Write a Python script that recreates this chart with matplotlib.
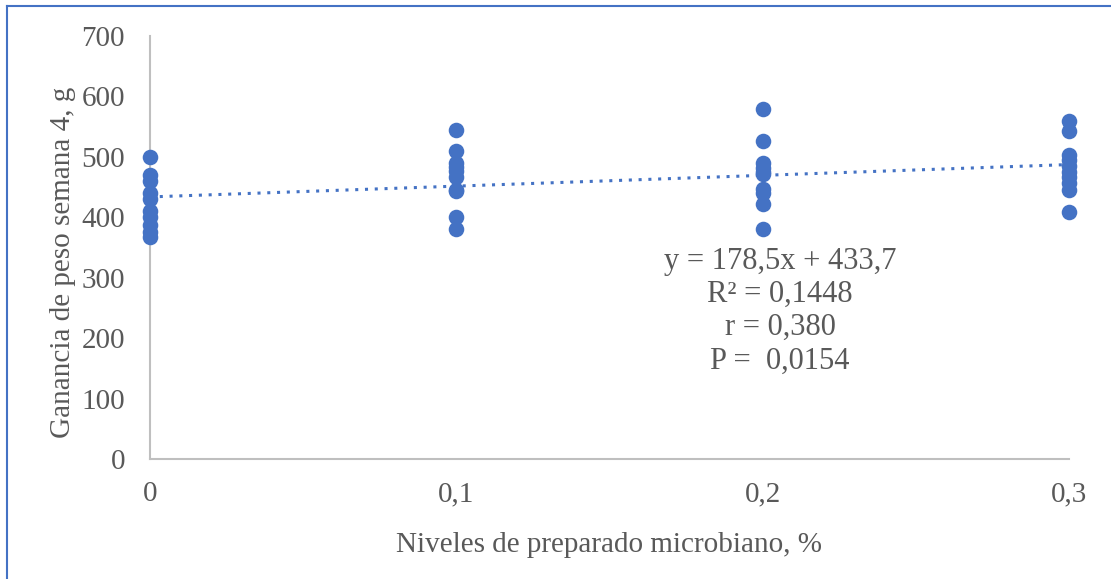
import matplotlib
matplotlib.use("Agg")
import matplotlib.pyplot as plt
from matplotlib.lines import Line2D

# Weight gain at week 4 (g) for each level of microbial preparation (%)
levels = [0.0, 0.1, 0.2, 0.3]
gain_0 = [500, 470, 460, 441, 430, 410, 400, 388, 376, 367]
gain_01 = [545, 510, 490, 484, 476, 467, 445, 443, 400, 380]
gain_02 = [580, 527, 490, 482, 475, 472, 447, 440, 422, 380]
gain_03 = [560, 543, 503, 495, 485, 475, 466, 456, 445, 408]
groups = [gain_0, gain_01, gain_02, gain_03]

slope = 178.5
intercept = 433.7
r_squared = 0.1448
r_value = 0.380
p_value = 0.0154

x_ticks = [0, 0.1, 0.2, 0.3]
x_tick_labels = ["0", "0,1", "0,2", "0,3"]
y_ticks = [0, 100, 200, 300, 400, 500, 600, 700]

W, H, DPI = 1111, 579, 100
plt.rcParams["font.family"] = ["Liberation Serif", "DejaVu Serif"]
blue = "#4472C4"
grey_text = "#595959"
axis_grey = "#BFBFBF"
fs = 21
fs_stats = 22

fig = plt.figure(figsize=(W / DPI, H / DPI), dpi=DPI)
ax = fig.add_axes([150 / W, 1 - 459 / H, (1069 - 150) / W, (459 - 36) / H])

xs, ys = [], []
for lvl, vals in zip(levels, groups):
    xs += [lvl] * len(vals)
    ys += vals
ax.plot(xs, ys, "o", color=blue, markersize=11.2, markeredgewidth=0,
        linestyle="none", zorder=3, clip_on=False)

tx = [levels[0], levels[-1]]
ax.plot(tx, [slope * v + intercept for v in tx], linestyle=(0, (1, 2.2)),
        color=blue, linewidth=2.2, zorder=2)

ax.set_xlim(0, 0.3)
ax.set_ylim(0, 700)
ax.set_xticks(x_ticks)
ax.set_xticklabels(x_tick_labels)
ax.set_yticks(y_ticks)
ax.tick_params(axis="both", length=0, labelsize=fs, labelcolor=grey_text)
ax.tick_params(axis="x", pad=16)
ax.tick_params(axis="y", pad=18)
for s in ["top", "right"]:
    ax.spines[s].set_visible(False)
for s in ["left", "bottom"]:
    ax.spines[s].set_color(axis_grey)
    ax.spines[s].set_linewidth(1.5)

fig.text(63 / W, 1 - 262 / H, "Ganancia de peso semana 4, g", rotation=90,
         ha="center", va="center", fontsize=fs, color=grey_text)
fig.text(609 / W, 1 - 545 / H, "Niveles de preparado microbiano, %",
         ha="center", va="center", fontsize=fs, color=grey_text)


def fmt(v, nd):
    return f"{v:.{nd}f}".replace(".", ",")


stats_lines = [
    f"y = {fmt(slope, 1)}x + {fmt(intercept, 1)}",
    f"R² = {fmt(r_squared, 4)}",
    f"r = {fmt(r_value, 3)}",
    f"P =  {fmt(p_value, 4)}",
]
for i, line in enumerate(stats_lines):
    fig.text(780 / W, 1 - (261 + i * 33.3) / H, line, ha="center", va="center",
             fontsize=fs_stats, color=grey_text)

# Blue frame along the left and top edges of the figure
fig.add_artist(Line2D([6.5 / W, 6.5 / W], [0, 1 - 6 / H], transform=fig.transFigure,
                      color=blue, linewidth=1.5))
fig.add_artist(Line2D([6.5 / W, 1], [1 - 6 / H, 1 - 6 / H], transform=fig.transFigure,
                      color=blue, linewidth=1.5))

fig.savefig("out.png", dpi=DPI)
